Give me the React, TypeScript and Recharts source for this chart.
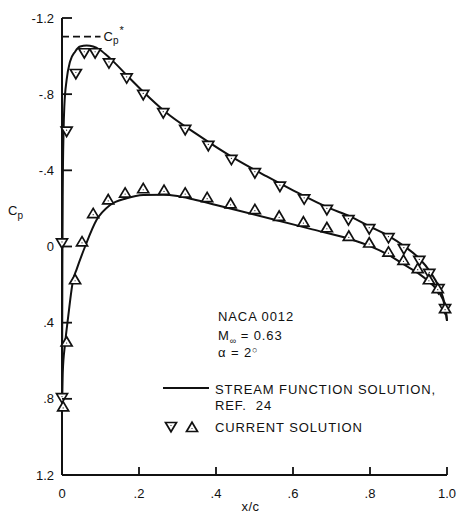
import {
  ComposedChart,
  Line,
  ReferenceLine,
  Scatter,
  XAxis,
  YAxis,
} from "recharts";

// stream function solution (ref. 24), upper and lower surface
const upperCurveX = [0, 0.0005, 0.001, 0.002, 0.004, 0.006, 0.012, 0.021, 0.034, 0.047, 0.064, 0.081, 0.099, 0.125, 0.168, 0.211, 0.268, 0.35, 0.45, 0.532, 0.6, 0.696, 0.748, 0.8, 0.848, 0.89, 0.93, 0.956, 0.978, 0.995, 1.0];
const upperCurveCp = [0.88, 0.5, 0.1, -0.3, -0.6, -0.734, -0.875, -0.971, -1.023, -1.05, -1.055, -1.05, -1.032, -0.988, -0.9, -0.813, -0.708, -0.59, -0.46, -0.368, -0.295, -0.2, -0.158, -0.104, -0.056, 0.0, 0.067, 0.132, 0.21, 0.315, 0.39];

const lowerCurveX = [0, 0.002, 0.008, 0.016, 0.029, 0.038, 0.06, 0.09, 0.125, 0.168, 0.211, 0.263, 0.3, 0.34, 0.4, 0.45, 0.55, 0.65, 0.75, 0.8, 0.848, 0.89, 0.925, 0.956, 0.978, 0.995, 1.0];
const lowerCurveCp = [0.88, 0.66, 0.51, 0.37, 0.175, 0.12, 0.0, -0.14, -0.218, -0.253, -0.27, -0.272, -0.265, -0.248, -0.218, -0.193, -0.142, -0.09, -0.038, -0.002, 0.044, 0.097, 0.14, 0.19, 0.237, 0.315, 0.39];

// current solution
const upperPointsX = [0, 0, 0.012, 0.036, 0.058, 0.086, 0.122, 0.168, 0.211, 0.263, 0.32, 0.38, 0.44, 0.501, 0.566, 0.629, 0.688, 0.744, 0.798, 0.848, 0.888, 0.928, 0.954, 0.978, 0.995];
const upperPointsCp = [0.796, -0.016, -0.603, -0.906, -1.015, -1.015, -0.962, -0.883, -0.796, -0.7, -0.612, -0.528, -0.455, -0.385, -0.314, -0.248, -0.192, -0.138, -0.091, -0.044, 0.014, 0.076, 0.144, 0.224, 0.329];

const lowerPointsX = [0.003, 0.012, 0.034, 0.052, 0.081, 0.12, 0.164, 0.211, 0.265, 0.32, 0.377, 0.438, 0.501, 0.564, 0.627, 0.688, 0.745, 0.798, 0.848, 0.887, 0.924, 0.953, 0.976, 0.995];
const lowerPointsCp = [0.84, 0.499, 0.172, -0.027, -0.175, -0.248, -0.283, -0.306, -0.297, -0.283, -0.259, -0.227, -0.196, -0.161, -0.131, -0.101, -0.056, -0.021, 0.027, 0.07, 0.114, 0.172, 0.219, 0.324];

const cpStar = -1.102;
const cpStarEndX = 0.1;

const xTicks = [0, 0.2, 0.4, 0.6, 0.8, 1.0];
const xTickLabels = ["0", ".2", ".4", ".6", ".8", "1.0"];
const cpTicks = [-1.2, -0.8, -0.4, 0, 0.4, 0.8, 1.2];
const cpTickLabels = ["-1.2", "-.8", "-.4", "0", ".4", ".8", "1.2"];

const annotation = ["NACA 0012", "0.63", "2"];
const legendLine = ["STREAM FUNCTION SOLUTION,", "REF.  24"];
const legendPoints = "CURRENT SOLUTION";

const toRows = (xs: number[], ys: number[]) => xs.map((x, i) => ({ x, cp: ys[i] }));

const upperCurve = toRows(upperCurveX, upperCurveCp);
const lowerCurve = toRows(lowerCurveX, lowerCurveCp);
const upperPoints = toRows(upperPointsX, upperPointsCp);
const lowerPoints = toRows(lowerPointsX, lowerPointsCp);

const font = "'Liberation Sans', Arial, sans-serif";
const ink = "#111";

function DownTriangle(props: any) {
  const { cx, cy } = props;
  if (cx == null || cy == null) return null;
  return (
    <g>
      <path
        d={`M${cx - 5.5},${cy - 4.5}L${cx + 5.5},${cy - 4.5}L${cx},${cy + 4.8}Z`}
        fill="#fff"
        stroke={ink}
        strokeWidth={1.7}
      />
      <circle cx={cx} cy={cy - 1.5} r={0.6} fill={ink} />
    </g>
  );
}

function UpTriangle(props: any) {
  const { cx, cy } = props;
  if (cx == null || cy == null) return null;
  return (
    <g>
      <path
        d={`M${cx - 5.5},${cy + 4.5}L${cx + 5.5},${cy + 4.5}L${cx},${cy - 4.8}Z`}
        fill="#fff"
        stroke={ink}
        strokeWidth={1.7}
      />
      <circle cx={cx} cy={cy + 1.5} r={0.6} fill={ink} />
    </g>
  );
}

// tick marks point into the plot, as in the original figure
function XTick(props: any) {
  const x = Number(props.x);
  const y = Number(props.y);
  const v = props.payload.value;
  const i = xTicks.indexOf(v);
  return (
    <g>
      {v !== 0 && <rect x={x - 0.9} y={y - 21} width={1.8} height={8} fill={ink} />}
      <text x={x} y={y} dy={9.5} textAnchor="middle" fontSize={13} fontFamily={font} fill={ink}>
        {xTickLabels[i]}
      </text>
    </g>
  );
}

function YTick(props: any) {
  const x = Number(props.x);
  const y = Number(props.y);
  const i = cpTicks.indexOf(props.payload.value);
  return (
    <g>
      <rect x={x + 7} y={y - 0.9} width={10} height={1.8} fill={ink} />
      <text x={x - 1} y={y} dy={4.6} textAnchor="end" fontSize={13} fontFamily={font} fill={ink}>
        {cpTickLabels[i]}
      </text>
    </g>
  );
}

function CpAxisLabel(props: any) {
  const { viewBox } = props;
  const x = viewBox.x + 8;
  const y = viewBox.y + 197;
  return (
    <text x={x} y={y} fontSize={13} fontFamily={font} fill={ink}>
      C
      <tspan fontSize={10} dy={4}>p</tspan>
    </text>
  );
}

function XAxisLabel(props: any) {
  const { viewBox } = props;
  return (
    <text
      x={viewBox.x + viewBox.width / 2 - 4}
      y={viewBox.y + 36}
      textAnchor="middle"
      fontSize={13}
      fontFamily={font}
      fill={ink}
      letterSpacing={0.5}
    >
      x/c
    </text>
  );
}

function CpStarLabel(props: any) {
  const { viewBox } = props;
  const x = viewBox.x + viewBox.width + 3;
  const y = viewBox.y + 4.5;
  return (
    <text x={x} y={y} fontSize={13} fontFamily={font} fill={ink}>
      C
      <tspan fontSize={10} dy={3}>p</tspan>
      <tspan fontSize={11} dy={-10} dx={1}>*</tspan>
    </text>
  );
}

const textStyle: React.CSSProperties = {
  position: "absolute",
  fontFamily: font,
  fontSize: 13,
  lineHeight: "13px",
  letterSpacing: 0.9,
  color: ink,
  whiteSpace: "pre",
};

function Notes() {
  return (
    <div style={{ position: "absolute", left: 0, top: 0, width: 457, height: 513, pointerEvents: "none" }}>
      <div style={{ ...textStyle, left: 218, top: 310 }}>{annotation[0]}</div>
      <div style={{ ...textStyle, left: 218, top: 329 }}>
        M<span style={{ fontSize: 9, position: "relative", top: 4, letterSpacing: 0 }}>∞</span> = {annotation[1]}
      </div>
      <div style={{ ...textStyle, left: 218, top: 345.5 }}>
        α = {annotation[2]}
        <span style={{ fontSize: 9, position: "relative", top: -4, letterSpacing: 0 }}>○</span>
      </div>
      <svg style={{ position: "absolute", left: 160, top: 380 }} width={56} height={60}>
        <line x1={3} x2={49} y1={8} y2={8} stroke={ink} strokeWidth={2} />
        <DownTriangle cx={11} cy={47} />
        <UpTriangle cx={32} cy={47} />
      </svg>
      <div style={{ ...textStyle, left: 215, top: 382.6 }}>{legendLine[0]}</div>
      <div style={{ ...textStyle, left: 215, top: 398.6 }}>{legendLine[1]}</div>
      <div style={{ ...textStyle, left: 215, top: 420.6 }}>{legendPoints}</div>
    </div>
  );
}

export default function App() {
  return (
    <div style={{ position: "absolute", left: 0, top: 0, width: 457, height: 513 }}>
      <ComposedChart width={457} height={513} margin={{ top: 18, right: 10, bottom: 0, left: 0 }}>
        <XAxis
          type="number"
          dataKey="x"
          domain={[0, 1]}
          ticks={xTicks}
          height={38}
          tickSize={0}
          tickMargin={13}
          tickLine={false}
          axisLine={{ stroke: ink, strokeWidth: 2 }}
          tick={<XTick />}
          label={<XAxisLabel />}
        />
        <YAxis
          type="number"
          dataKey="cp"
          domain={[-1.2, 1.2]}
          ticks={cpTicks}
          reversed
          width={62}
          tickSize={0}
          tickMargin={7}
          tickLine={false}
          axisLine={{ stroke: ink, strokeWidth: 2 }}
          tick={<YTick />}
          label={<CpAxisLabel />}
        />
        <ReferenceLine
          segment={[
            { x: 0, y: cpStar },
            { x: cpStarEndX, y: cpStar },
          ]}
          stroke={ink}
          strokeWidth={1.6}
          strokeDasharray="7 4"
          label={<CpStarLabel />}
        />
        <Line
          data={upperCurve}
          dataKey="cp"
          type="monotone"
          stroke={ink}
          strokeWidth={2}
          dot={false}
          isAnimationActive={false}
        />
        <Line
          data={lowerCurve}
          dataKey="cp"
          type="monotone"
          stroke={ink}
          strokeWidth={2}
          dot={false}
          isAnimationActive={false}
        />
        <Scatter data={upperPoints} dataKey="cp" shape={<DownTriangle />} isAnimationActive={false} />
        <Scatter data={lowerPoints} dataKey="cp" shape={<UpTriangle />} isAnimationActive={false} />
      </ComposedChart>
      <Notes />
    </div>
  );
}
